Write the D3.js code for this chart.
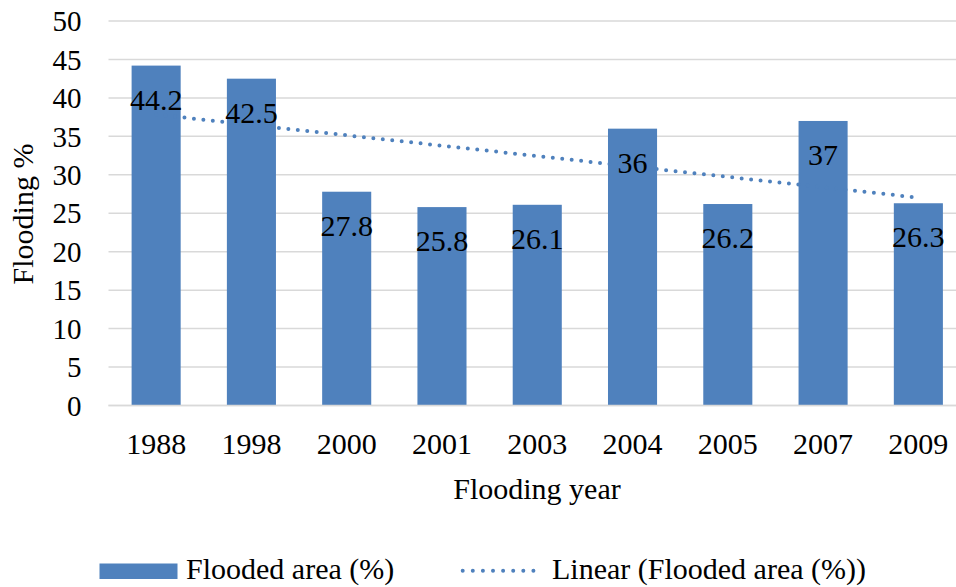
<!DOCTYPE html>
<html>
<head>
<meta charset="utf-8">
<script src="https://cdn.jsdelivr.net/npm/d3@7/dist/d3.min.js"></script>
<style>
  html, body { margin: 0; padding: 0; background: #fff; }
  svg { display: block; }
</style>
</head>
<body>
<svg id="chart" width="956" height="587"></svg>
<script>
// Flooded area per flooding year
const years = ["1988", "1998", "2000", "2001", "2003", "2004", "2005", "2007", "2009"];
const floodedArea = [44.2, 42.5, 27.8, 25.8, 26.1, 36, 26.2, 37, 26.3];
const yTicks = [0, 5, 10, 15, 20, 25, 30, 35, 40, 45, 50];

const barColor = "#4f81bd";
const gridColor = "#d9d9d9";

const svg = d3.select("#chart");

// every label gets the serif face and its size, set inline
const serif = (sel, size) => sel
  .attr("style", `font-family: 'Liberation Serif', Tinos, serif !important; font-size: ${size}px !important; fill: #000;`);

const x = d3.scaleBand()
  .domain(years)
  .range([108.5, 966])
  .paddingInner(0.485)
  .paddingOuter(0.2425);

const y = d3.scaleLinear()
  .domain([0, 50])
  .range([405.5, 21]);

// horizontal gridlines
svg.append("g")
  .selectAll("line")
  .data(yTicks)
  .join("line")
  .attr("x1", 108.5)
  .attr("x2", 966)
  .attr("y1", d => y(d))
  .attr("y2", d => y(d))
  .attr("stroke", gridColor)
  .attr("stroke-width", 1.5);

// y tick labels
svg.append("g")
  .selectAll("text")
  .data(yTicks)
  .join("text")
  .attr("x", 81.5)
  .attr("y", d => y(d))
  .attr("dy", "0.35em")
  .attr("text-anchor", "end")
  .call(serif, 29)
  .text(d => d);

// bars
svg.append("g")
  .selectAll("rect")
  .data(years.map((yr, i) => ({ yr, v: floodedArea[i] })))
  .join("rect")
  .attr("x", d => x(d.yr))
  .attr("width", x.bandwidth())
  .attr("y", d => y(d.v))
  .attr("height", d => y(0) - y(d.v))
  .attr("fill", barColor);

// linear trend (least squares on category index)
const n = floodedArea.length;
const idx = d3.range(1, n + 1);
const mx = d3.mean(idx), my = d3.mean(floodedArea);
const slope = d3.sum(idx, (t, i) => (t - mx) * (floodedArea[i] - my)) /
              d3.sum(idx, t => (t - mx) * (t - mx));
const intercept = my - slope * mx;
const cx = yr => x(yr) + x.bandwidth() / 2;
const trend = [
  { yr: years[0], v: intercept + slope * 1 },
  { yr: years[n - 1], v: intercept + slope * n }
];
svg.append("path")
  .datum(trend)
  .attr("d", d3.line().x(d => cx(d.yr)).y(d => y(d.v)))
  .attr("fill", "none")
  .attr("stroke", barColor)
  .attr("stroke-width", 4)
  .attr("stroke-linecap", "round")
  .attr("stroke-dasharray", "0 9.5");

// data labels, inside end of each bar
svg.append("g")
  .selectAll("text")
  .data(years.map((yr, i) => ({ yr, v: floodedArea[i] })))
  .join("text")
  .attr("x", d => cx(d.yr))
  .attr("y", d => y(d.v) + 44)
  .attr("text-anchor", "middle")
  .call(serif, 30)
  .text(d => d.v);

// axis baseline
svg.append("line")
  .attr("x1", 108.5).attr("x2", 966)
  .attr("y1", y(0)).attr("y2", y(0))
  .attr("stroke", gridColor)
  .attr("stroke-width", 1.5);

// x tick labels
svg.append("g")
  .selectAll("text")
  .data(years)
  .join("text")
  .attr("x", d => cx(d))
  .attr("y", 454)
  .attr("text-anchor", "middle")
  .call(serif, 30)
  .text(d => d);

// axis titles
svg.append("text")
  .attr("x", 537)
  .attr("y", 499)
  .attr("text-anchor", "middle")
  .call(serif, 30)
  .text("Flooding year");

svg.append("text")
  .attr("transform", "translate(33,214) rotate(-90)")
  .attr("text-anchor", "middle")
  .call(serif, 30)
  .text("Flooding %");

// legend
const legend = svg.append("g");
legend.append("rect")
  .attr("x", 99.5).attr("y", 563.5)
  .attr("width", 78).attr("height", 15.5)
  .attr("fill", barColor);
legend.append("text")
  .attr("x", 186).attr("y", 579)
  .call(serif, 30)
  .text("Flooded area (%)");
legend.append("line")
  .attr("x1", 462.7).attr("x2", 543.5)
  .attr("y1", 570.7).attr("y2", 570.7)
  .attr("stroke", barColor)
  .attr("stroke-width", 4)
  .attr("stroke-linecap", "round")
  .attr("stroke-dasharray", "0 10.1");
legend.append("text")
  .attr("x", 552).attr("y", 579)
  .call(serif, 30)
  .text("Linear (Flooded area (%))");
</script>
</body>
</html>
